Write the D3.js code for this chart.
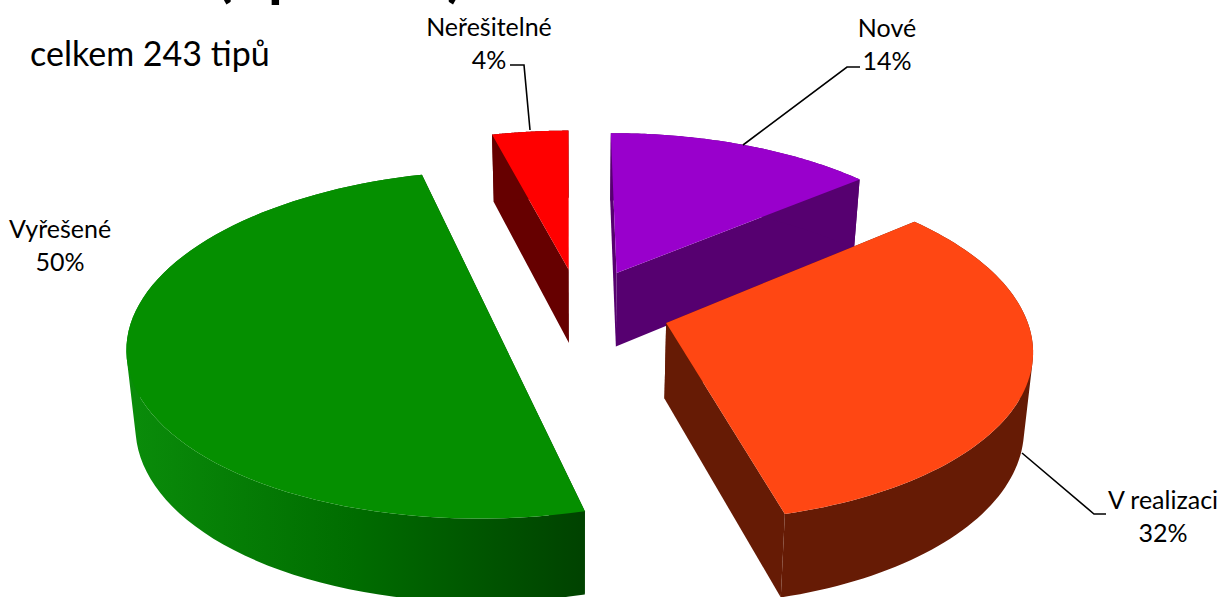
<!DOCTYPE html>
<html>
<head>
<meta charset="utf-8">
<script src="https://cdn.jsdelivr.net/npm/d3@7"></script>
<style>
  html, body { margin: 0; padding: 0; background: #fff; overflow: hidden; }
  text { font-family: Lato, "Open Sans", sans-serif; fill: #000; }
</style>
</head>
<body>
<div id="chart"></div>
<script>
// data
const categories = ["Nové", "V realizaci", "Vyřešené", "Neřešitelné"];
const shares = [14, 32, 50, 4];
const topColors = ["#9900cc", "#ff4713", "#058f00", "#ff0000"];
const wallColors = ["#560070", "#661b05", "url(#greenWall)", "#660000"];
// only the bottoms of the title are left in the picture, the rest is cut off
const titleBits = ["(", "p", ")"];
const titleBitX = [216, 268, 447];

const width = 1221, height = 597;

// pie geometry: plane coordinates go through a perspective projection
const cx = 580, cy = 310;
const rx = 358, ry = 168;
const persp = 0.135;     // front of the pie looks bigger than the back
const explode = 0.25;    // how far each slice is pulled out
const depth = 75;        // thickness
const inward = 0.02;     // bottom face is a bit narrower
const rotation = -0.005;

function project(px, py, z) {
  const s = 1 / (1 - persp * py);
  const x = cx + rx * px * s * (1 - inward * z);
  const y = cy + ry * py * s + depth * z * Math.pow(s, 0.7);
  return [x, y];
}

const svg = d3.select("#chart").append("svg")
  .attr("width", width)
  .attr("height", height)
  .attr("viewBox", `0 0 ${width} ${height}`)
  .style("display", "block");

const grad = svg.append("defs").append("linearGradient")
  .attr("id", "greenWall")
  .attr("gradientUnits", "userSpaceOnUse")
  .attr("x1", 130).attr("x2", 585).attr("y1", 0).attr("y2", 0);
grad.append("stop").attr("offset", 0).attr("stop-color", "#0a8c0a");
grad.append("stop").attr("offset", 0.5).attr("stop-color", "#006c00");
grad.append("stop").attr("offset", 1).attr("stop-color", "#004200");

const pie = d3.pie().sort(null).startAngle(rotation).endAngle(rotation + 2 * Math.PI);
const slices = pie(shares);
const line = d3.line();

function slicePoints(d) {
  const mid = (d.startAngle + d.endAngle) / 2;
  const ox = explode * Math.sin(mid), oy = -explode * Math.cos(mid);
  const steps = d3.range(0, 81).map(i => d.startAngle + (d.endAngle - d.startAngle) * i / 80);
  return {
    apex: [ox, oy],
    rim: steps.map(a => [ox + Math.sin(a), oy - Math.cos(a)])
  };
}

// back to front
const order = [3, 0, 2, 1];
order.forEach(i => {
  const p = slicePoints(slices[i]);
  const g = svg.append("g");
  const down = q => project(q[0], q[1], 1);
  const up = q => project(q[0], q[1], 0);

  // cut walls on both straight edges
  [p.rim[0], p.rim[p.rim.length - 1]].forEach(r => {
    g.append("path")
      .attr("d", line([up(p.apex), up(r), down(r), down(p.apex)]) + "Z")
      .attr("fill", i === 2 ? "#004200" : wallColors[i]);
  });

  // outer wall: quads go into one path, all wound the same way so they don't cancel
  const rimUp = p.rim.map(up), rimDown = p.rim.map(down);
  const quads = d3.pairs(d3.range(rimUp.length)).map(([a, b]) => {
    const q = [rimUp[a], rimUp[b], rimDown[b], rimDown[a]];
    return line(d3.polygonArea(q) < 0 ? q.reverse() : q) + "Z";
  });
  g.append("path")
    .attr("d", quads.join(""))
    .attr("fill", wallColors[i]);

  // top face
  g.append("path")
    .attr("d", line([up(p.apex)].concat(rimUp)) + "Z")
    .attr("fill", topColors[i]);
});

// leader lines
const leaders = [
  [[743, 145], [847, 67], [860, 67]],
  [[1022, 453], [1094, 514], [1106, 514]],
  [[530, 130], [524, 65], [510, 65]]
];
svg.selectAll("path.leader").data(leaders).enter().append("path")
  .attr("class", "leader")
  .attr("d", line)
  .attr("fill", "none")
  .attr("stroke", "#000")
  .attr("stroke-width", 1.6);

// data labels
const labelPos = [[887, 37], [1163, 509], [60, 238], [489, 36]];
categories.forEach((c, i) => {
  const t = svg.append("text")
    .attr("x", labelPos[i][0]).attr("y", labelPos[i][1])
    .attr("text-anchor", "middle")
    .style("font-size", "25px");
  t.append("tspan").attr("x", labelPos[i][0]).text(c);
  t.append("tspan").attr("x", labelPos[i][0]).attr("dy", 33).text(shares[i] + "%");
});

svg.append("text")
  .attr("x", 30).attr("y", 66)
  .style("font-size", "34px")
  .text("celkem 243 tipů");

// title, clipped by the top of the picture
svg.selectAll("text.title").data(titleBits).enter().append("text")
  .attr("class", "title")
  .attr("x", (d, i) => titleBitX[i])
  .attr("y", -5)
  .style("font-size", "60px")
  .style("font-weight", 700)
  .text(d => d);
</script>
</body>
</html>
